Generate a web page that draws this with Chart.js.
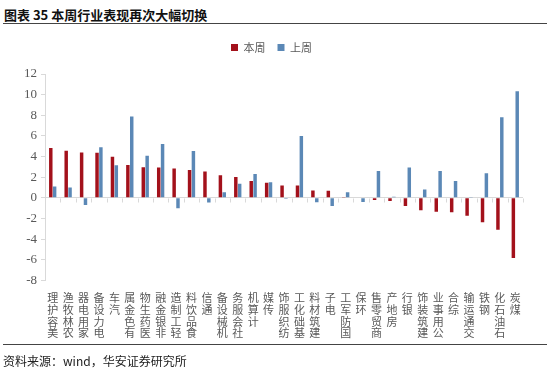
<!DOCTYPE html>
<html>
<head>
<meta charset="utf-8">
<script src="https://cdn.jsdelivr.net/npm/chart.js@4.4.0/dist/chart.umd.min.js"></script>
<style>
  body { margin: 0; background: #fff; }
  #wrap { position: absolute; left: 0; top: 0; width: 550px; height: 369px; }
  #title { position: absolute; left: 4px; top: 5px; font: bold 13px "Noto Sans CJK SC", sans-serif; color: #111; }
  #rule1 { position: absolute; left: 3px; top: 23px; width: 544px; height: 0; border-top: 1.5px solid #444; }
  #rule2 { position: absolute; left: 3px; top: 344px; width: 544px; height: 0; border-top: 1.5px solid #444; }
  #source { position: absolute; left: 3px; top: 352px; font: 12px "Noto Sans CJK SC", serif; color: #222; }
</style>
</head>
<body>
<div id="title">图表 35 本周行业表现再次大幅切换</div>
<div id="rule1"></div>
<div id="wrap"><canvas id="myChart"></canvas></div>
<div id="rule2"></div>
<div id="source">资料来源：wind，华安证券研究所</div>
<script>
// industries, this week vs last week (%)
const industries = [
  '美容护理', '农林牧渔', '家用电器', '电力设备', '汽车', '有色金属', '医药生物', '非银金融',
  '轻工制造', '食品饮料', '通信', '机械设备', '社会服务', '计算机', '传媒', '纺织服饰',
  '基础化工', '建筑材料', '电子', '国防军工', '环保', '商贸零售', '房地产', '银行',
  '建筑装饰', '公用事业', '综合', '交通运输', '钢铁', '石油石化', '煤炭'
];
const thisWeek = [4.82, 4.56, 4.40, 4.37, 3.97, 3.19, 2.96, 2.93, 2.83, 2.70, 2.54, 2.18, 2.02, 1.63, 1.47, 1.20,
                  1.20, 0.72, 0.68, 0.07, -0.05, -0.20, -0.30, -0.80, -1.20, -1.34, -1.40, -1.73, -2.38, -3.09, -5.83];
const lastWeek = [1.10, 1.00, -0.70, 4.89, 3.16, 7.88, 4.07, 5.21, -1.00, 4.53, -0.45, 0.55, 1.37, 2.31, 1.50, -0.10,
                  6.00, -0.42, -0.80, 0.55, -0.40, 2.60, 0.10, 2.93, 0.81, 2.60, 1.63, 0.07, 2.38, 7.82, 10.33];
const yTicks = [-8, -6, -4, -2, 0, 2, 4, 6, 8, 10, 12];

// vertical labels: one character per line, read upward from the bottom
const labels = industries.map(s => s.split('').reverse());

const cjk = '"Noto Sans CJK SC", "Liberation Serif", serif';
const gray = '#595959';
const axisGray = '#d9d9d9';

// extra room under the legend
const legendGap = {
  id: 'legendGap',
  beforeInit(chart) {
    const fit = chart.legend.fit;
    chart.legend.fit = function () { fit.call(this); this.height += 11; };
  }
};

// small tick marks on the zero line between categories
const zeroTicks = {
  id: 'zeroTicks',
  afterDatasetsDraw(chart) {
    const x = chart.scales.x, y = chart.scales.y, ctx = chart.ctx;
    const y0 = Math.round(y.getPixelForValue(0)) + 0.5;
    const step = x.getPixelForTick(1) - x.getPixelForTick(0);
    ctx.save();
    ctx.strokeStyle = axisGray;
    ctx.lineWidth = 1;
    ctx.beginPath();
    for (let i = 0; i <= industries.length; i++) {
      const px = Math.round(x.getPixelForTick(0) - step / 2 + i * step) + 0.5;
      ctx.moveTo(px, y0);
      ctx.lineTo(px, y0 + 4);
    }
    ctx.stroke();
    ctx.restore();
  }
};

new Chart(document.getElementById('myChart'), {
  type: 'bar',
  data: {
    labels: labels,
    datasets: [
      { label: '本周', data: thisWeek, backgroundColor: '#A3111B', categoryPercentage: 0.5, barPercentage: 0.9 },
      { label: '上周', data: lastWeek, backgroundColor: '#5B88B6', categoryPercentage: 0.5, barPercentage: 0.9 }
    ]
  },
  options: {
    responsive: true,
    maintainAspectRatio: false,
    animation: false,
    layout: { padding: { top: 30, left: 20, right: 27, bottom: 18 } },
    plugins: {
      legend: {
        position: 'top',
        labels: { boxWidth: 7, boxHeight: 7, padding: 12, color: gray, font: { family: cjk, size: 11 } }
      },
      tooltip: { enabled: false }
    },
    scales: {
      x: {
        grid: { display: false, drawTicks: false },
        border: { display: false },
        ticks: {
          autoSkip: false, maxRotation: 0, minRotation: 0, padding: 12,
          color: gray, font: { family: cjk, size: 11, lineHeight: 1.06 }
        }
      },
      y: {
        min: -8, max: 12,
        afterBuildTicks: axis => { axis.ticks = yTicks.map(v => ({ value: v })); },
        grid: {
          color: c => (c.tick && c.tick.value === 0) ? axisGray : 'rgba(0,0,0,0)',
          tickColor: axisGray, tickLength: 4
        },
        border: { display: true, color: axisGray },
        ticks: { color: gray, padding: 4, font: { family: '"Liberation Serif", serif', size: 13 } }
      }
    }
  },
  plugins: [legendGap, zeroTicks]
});
</script>
</body>
</html>
